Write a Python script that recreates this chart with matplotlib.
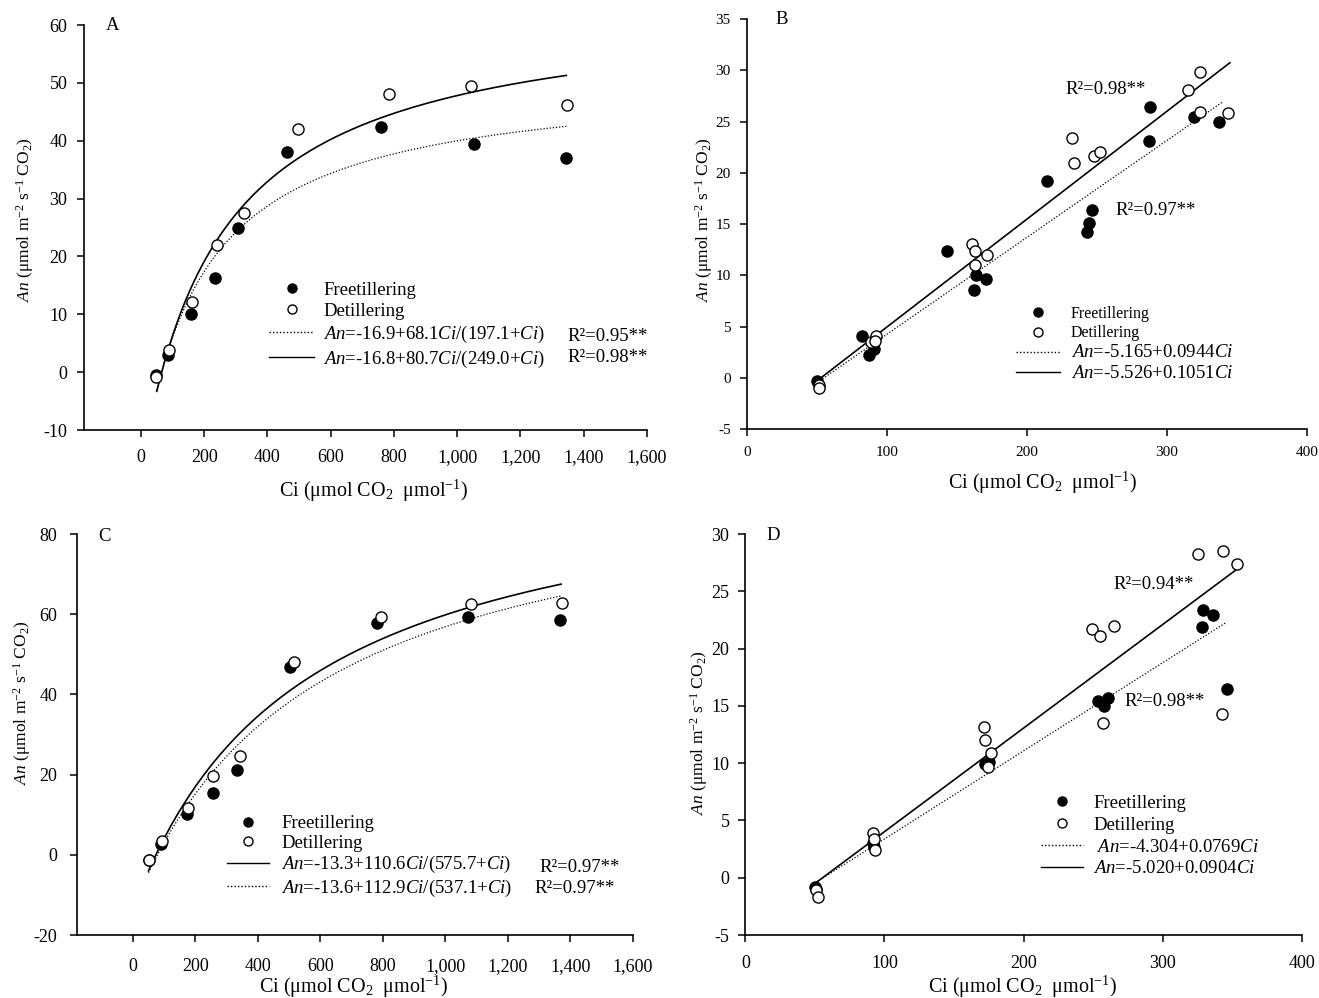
import numpy as np
import matplotlib
matplotlib.use("Agg")
import matplotlib.pyplot as plt
from matplotlib.lines import Line2D
from matplotlib.ticker import FuncFormatter

plt.rcParams['font.family'] = ['Liberation Serif', 'DejaVu Serif']
plt.rcParams['mathtext.fontset'] = 'custom'
plt.rcParams['mathtext.rm'] = 'Liberation Serif'
plt.rcParams['mathtext.it'] = 'Liberation Serif:italic'
plt.rcParams['axes.unicode_minus'] = False

# ---- panel A (saturating fit) ----
a_free_ci = [47, 84, 157, 235, 307, 463, 759, 1052, 1344]
a_free_an = [-0.5, 3.0, 10.1, 16.2, 25.0, 38.1, 42.4, 39.5, 37.1]
a_de_ci = [47, 88, 163, 240, 325, 497, 785, 1044, 1348]
a_de_an = [-0.9, 3.8, 12.1, 22.0, 27.5, 42.1, 48.0, 49.5, 46.1]
a_dot_fit = [-16.9, 68.1, 197.1]     # An = a + b*Ci/(k+Ci)
a_solid_fit = [-16.8, 80.7, 249.0]
a_labels = [r'$\mathit{An}$=-16.9+68.1$\mathit{Ci}$/(197.1+$\mathit{Ci}$)',
            r'$\mathit{An}$=-16.8+80.7$\mathit{Ci}$/(249.0+$\mathit{Ci}$)']
a_r2 = ['R²=0.95**', 'R²=0.98**']

# ---- panel B (linear fit) ----
b_free_ci = [49.6, 81.8, 86.9, 90.4, 142.4, 161.9, 163.7, 170.5, 214.2, 243.1,
             244.6, 246.4, 287.2, 287.7, 319.1, 337.4]
b_free_an = [-0.3, 4.1, 2.2, 2.8, 12.4, 8.6, 10.0, 9.6, 19.2, 14.2,
             15.1, 16.4, 23.1, 26.4, 25.4, 25.0]
b_de_ci = [50.8, 51.4, 88.6, 91.6, 91.3, 160.7, 162.5, 162.8, 171.3, 231.9,
           233.4, 247.6, 252.3, 315.2, 323.5, 323.8, 343.9]
b_de_an = [-0.75, -1.0, 3.45, 4.07, 3.55, 13.1, 12.4, 11.0, 12.0, 23.4,
           21.0, 21.6, 22.0, 28.1, 29.8, 25.9, 25.8]
b_dot_fit = [-5.165, 0.0944]
b_solid_fit = [-5.526, 0.1051]
b_labels = [r'$\mathit{An}$=-5.165+0.0944$\mathit{Ci}$',
            r'$\mathit{An}$=-5.526+0.1051$\mathit{Ci}$']
b_r2 = ['R²=0.98**', 'R²=0.97**']

# ---- panel C (saturating fit) ----
c_free_ci = [50, 91, 174, 257, 334, 503, 782, 1072, 1366]
c_free_an = [-1.2, 2.8, 10.1, 15.3, 21.2, 46.8, 57.8, 59.3, 58.6]
c_de_ci = [50, 93, 175, 257, 342, 515, 795, 1081, 1374]
c_de_an = [-1.2, 3.4, 11.6, 19.7, 24.6, 48.2, 59.4, 62.6, 62.7]
c_solid_fit = [-13.6, 112.9, 537.1]   # as drawn in the figure
c_dot_fit = [-13.3, 110.6, 575.7]
c_labels = [r'$\mathit{An}$=-13.3+110.6$\mathit{Ci}$/(575.7+$\mathit{Ci}$)',
            r'$\mathit{An}$=-13.6+112.9$\mathit{Ci}$/(537.1+$\mathit{Ci}$)']
c_r2 = ['R²=0.97**', 'R²=0.97**']

# ---- panel D (linear fit) ----
d_free_ci = [49.9, 50.5, 92.0, 92.3, 172.2, 175.5, 253.3, 257.8, 260.8,
             328.0, 328.9, 335.9, 346.1]
d_free_an = [-0.8, -1.0, 3.0, 2.7, 9.9, 10.1, 15.4, 15.0, 15.7,
             21.9, 23.4, 22.9, 16.5]
d_de_ci = [50.5, 52.0, 92.0, 92.3, 93.2, 171.9, 172.5, 176.7, 174.6, 249.3,
           254.8, 264.8, 257.2, 325.3, 343.4, 353.7, 342.8]
d_de_an = [-1.05, -1.7, 3.9, 3.4, 2.45, 13.15, 12.0, 10.9, 9.7, 21.75,
           21.1, 22.0, 13.5, 28.3, 28.5, 27.4, 14.3]
d_dot_fit = [-4.304, 0.0769]
d_solid_fit = [-5.020, 0.0904]
d_labels = [r' $\mathit{An}$=-4.304+0.0769$\mathit{Ci}$',
            r'$\mathit{An}$=-5.020+0.0904$\mathit{Ci}$']
d_r2 = ['R²=0.94**', 'R²=0.98**']

YLABEL = r'$\mathit{An}$ (μmol m$^{-2}$ s$^{-1}$ CO$_{2}$)'
XLABEL = r'Ci (μmol CO$_{2}$  μmol$^{-1}$)'
DOT = (0, (1, 1.5))


def mm(p, x):
    return p[0] + p[1] * x / (p[2] + x)


def lin(p, x):
    return p[0] + p[1] * x


def style_axes(ax, tick_fs, xpad, ypad):
    for s in ['top', 'right']:
        ax.spines[s].set_visible(False)
    for s in ['left', 'bottom']:
        ax.spines[s].set_linewidth(1.2)
    ax.tick_params(direction='out', length=5, width=1.1, labelsize=tick_fs)
    ax.tick_params(axis='x', pad=xpad)
    ax.tick_params(axis='y', pad=ypad)


def scatter_pts(ax, fx, fy, dx, dy):
    ax.plot(fx, fy, 'o', ms=8, mfc='black', mec='black', ls='none', zorder=3)
    ax.plot(dx, dy, 'o', ms=8, mfc='white', mec='black', mew=1.0, ls='none', zorder=4)


def legend_handles(first_style, second_style):
    return [Line2D([], [], marker='o', ls='none', ms=6.5, mfc='black', mec='black'),
            Line2D([], [], marker='o', ls='none', ms=6.5, mfc='white', mec='black'),
            Line2D([], [], color='black', ls=first_style, lw=1.0),
            Line2D([], [], color='black', ls=second_style, lw=1.0)]


fig = plt.figure(figsize=(13.19, 9.98), dpi=100)
axA = fig.add_axes([0.0637, 0.5691, 0.4268, 0.4058])
axB = fig.add_axes([0.5667, 0.5701, 0.4240, 0.4108])
axC = fig.add_axes([0.0581, 0.0631, 0.4218, 0.4018])
axD = fig.add_axes([0.5651, 0.0631, 0.4218, 0.4018])

comma = FuncFormatter(lambda v, p: f'{v:,.0f}')

# Panel A
ax = axA
xs = np.linspace(50, 1345, 200)
ax.plot(xs, mm(a_dot_fit, xs), color='black', ls=DOT, lw=0.9)
ax.plot(xs, mm(a_solid_fit, xs), color='black', lw=1.2)
scatter_pts(ax, a_free_ci, a_free_an, a_de_ci, a_de_an)
ax.set_xlim(-180, 1600)
ax.set_ylim(-10, 60)
ax.set_xticks(np.arange(0, 1601, 200))
ax.xaxis.set_major_formatter(comma)
style_axes(ax, 13, 9, 7)
ax.set_ylabel(YLABEL, fontsize=12.5)
ax.set_xlabel(XLABEL, fontsize=14.5)
ax.yaxis.set_label_coords(-0.085, 0.52)
ax.xaxis.set_label_coords(0.515, -0.1185)
ax.legend(legend_handles(DOT, '-'), ['Freetillering', 'Detillering'] + a_labels,
          loc='upper left', bbox_to_anchor=(0.3286, 0.366), frameon=False,
          fontsize=13.5, borderpad=0, borderaxespad=0, handlelength=2.4,
          handletextpad=0.48, labelspacing=0.2)
ax.text(1349, 6.2, a_r2[0], fontsize=13.5, va='center')
ax.text(1349, 2.5, a_r2[1], fontsize=13.5, va='center')
ax.text(-110, 60, 'A', fontsize=13.5, va='center')

# Panel B
ax = axB
ax.plot([50, 340], [lin(b_dot_fit, 50), lin(b_dot_fit, 340)], color='black', ls=DOT, lw=0.9)
ax.plot([50, 345], [lin(b_solid_fit, 50), lin(b_solid_fit, 345)], color='black', lw=1.2)
scatter_pts(ax, b_free_ci, b_free_an, b_de_ci, b_de_an)
ax.set_xlim(0, 400)
ax.set_ylim(-5, 35)
ax.set_xticks([0, 100, 200, 300, 400])
ax.set_yticks(np.arange(-5, 36, 5))
style_axes(ax, 11, 7, 7)
ax.set_ylabel(YLABEL, fontsize=12.5)
ax.set_xlabel(XLABEL, fontsize=14.5)
ax.yaxis.set_label_coords(-0.058, 0.51)
ax.xaxis.set_label_coords(0.528, -0.100)
leg = ax.legend(legend_handles(DOT, '-'), ['Freetillering', 'Detillering'] + b_labels,
                loc='upper left', bbox_to_anchor=(0.48, 0.300), frameon=False,
                fontsize=11.5, borderpad=0, borderaxespad=0, handlelength=2.75,
                handletextpad=0.69, labelspacing=0.2)
for t in leg.get_texts()[2:]:
    t.set_fontsize(13.5)
ax.text(227.5, 28.1, b_r2[0], fontsize=13.5, va='center')
ax.text(263.5, 16.3, b_r2[1], fontsize=13.5, va='center')
ax.text(20, 35, 'B', fontsize=13.5, va='center')

# Panel C
ax = axC
xs = np.linspace(50, 1370, 200)
ax.plot(xs, mm(c_dot_fit, xs), color='black', ls=DOT, lw=0.9)
ax.plot(xs, mm(c_solid_fit, xs), color='black', lw=1.2)
scatter_pts(ax, c_free_ci, c_free_an, c_de_ci, c_de_an)
ax.set_xlim(-180, 1600)
ax.set_ylim(-20, 80)
ax.set_xticks(np.arange(0, 1601, 200))
ax.set_yticks(np.arange(-20, 81, 20))
ax.xaxis.set_major_formatter(comma)
style_axes(ax, 13, 11.5, 9)
ax.set_ylabel(YLABEL, fontsize=12.5)
ax.set_xlabel(XLABEL, fontsize=14.5)
ax.yaxis.set_label_coords(-0.078, 0.579)
ax.xaxis.set_label_coords(0.498, -0.0975)
ax.legend(legend_handles('-', DOT), ['Freetillering', 'Detillering'] + c_labels,
          loc='upper left', bbox_to_anchor=(0.270, 0.299), frameon=False,
          fontsize=13.5, borderpad=0, borderaxespad=0, handlelength=2.25,
          handletextpad=0.64, labelspacing=0.13)
ax.text(1302, -3.07, c_r2[0], fontsize=13.5, va='center')
ax.text(1285, -8.3, c_r2[1], fontsize=13.5, va='center')
ax.text(-112, 79.3, 'C', fontsize=13.5, va='center')

# Panel D
ax = axD
ax.plot([50, 345], [lin(d_dot_fit, 50), lin(d_dot_fit, 345)], color='black', ls=DOT, lw=0.9)
ax.plot([50, 354], [lin(d_solid_fit, 50), lin(d_solid_fit, 354)], color='black', lw=1.2)
scatter_pts(ax, d_free_ci, d_free_an, d_de_ci, d_de_an)
ax.set_xlim(0, 400)
ax.set_ylim(-5, 30)
ax.set_xticks([0, 100, 200, 300, 400])
ax.set_yticks(np.arange(-5, 31, 5))
style_axes(ax, 13, 9.5, 6.5)
ax.set_ylabel(YLABEL, fontsize=12.5)
ax.set_xlabel(XLABEL, fontsize=14.5)
ax.yaxis.set_label_coords(-0.063, 0.504)
ax.xaxis.set_label_coords(0.499, -0.097)
ax.legend(legend_handles(DOT, '-'), ['Freetillering', 'Detillering'] + d_labels,
          loc='upper left', bbox_to_anchor=(0.531, 0.3495), frameon=False,
          fontsize=13.5, borderpad=0, borderaxespad=0, handlelength=2.25,
          handletextpad=0.55, labelspacing=0.25)
ax.text(264.8, 25.57, d_r2[0], fontsize=13.5, va='center')
ax.text(272.9, 15.4, d_r2[1], fontsize=13.5, va='center')
ax.text(15.5, 29.9, 'D', fontsize=13.5, va='center')

fig.savefig('out.png', dpi=100)
